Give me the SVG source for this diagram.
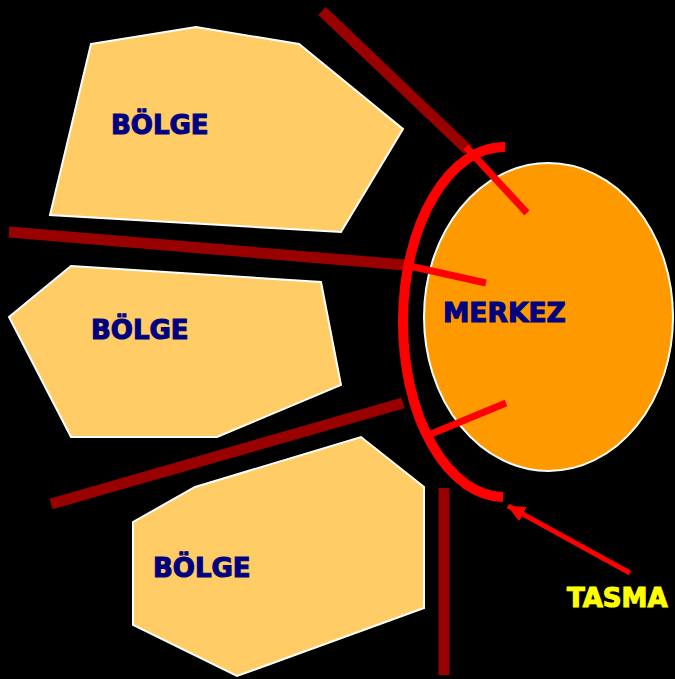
<svg xmlns="http://www.w3.org/2000/svg" width="675" height="679" viewBox="0 0 675 679">
<style>
.region{fill:#ffcc66;stroke:#ffffff;stroke-width:2;stroke-linejoin:miter}
.lbl{font-family:"DejaVu Sans","Verdana",sans-serif;font-weight:bold;font-size:26px;fill:#000080;stroke:#000080;stroke-width:1.1}
.wall{stroke:#990000;stroke-width:11;fill:none}
.spoke{stroke:#ff0000;stroke-width:7;fill:none}
</style>
<defs>
<marker id="ah" viewBox="0 0 18 16" refX="17" refY="8" markerWidth="18" markerHeight="16" orient="auto" markerUnits="userSpaceOnUse">
<path d="M0,0 L18,8 L0,16 z" fill="#ff0000"/>
</marker>
</defs>
<rect width="675" height="679" fill="#000000"/>
<g id="bolge1">
<polygon class="region" points="91,44 196,27 299,44 403,129 341,232 50,215"/>
<text class="lbl" x="111" y="134">BÖLGE</text>
</g>
<g id="bolge2">
<polygon class="region" points="71,266 321,282 341,385 217,437 71,437 9,317"/>
<text class="lbl" x="91" y="339">BÖLGE</text>
</g>
<g id="bolge3">
<polygon class="region" points="195,487 361,437 424,487 424,608 237,676 133,625 133,522"/>
<text class="lbl" x="153" y="577">BÖLGE</text>
</g>
<g id="merkez">
<ellipse cx="548.5" cy="317" rx="124.5" ry="154" fill="#ff9900" stroke="#ffffff" stroke-width="2"/>
<text class="lbl" x="443" y="322" style="font-size:26.5px">MERKEZ</text>
</g>
<g id="connectors">
<line class="wall" x1="322" y1="11" x2="468" y2="150"/>
<line class="wall" x1="9" y1="232" x2="405" y2="265"/>
<line class="wall" x1="51" y1="504" x2="403" y2="403"/>
<line class="wall" x1="444" y1="488" x2="444" y2="675"/>
<path d="M505,147 A101,175 0 0,0 503,497" fill="none" stroke="#ff0000" stroke-width="10"/>
<line class="spoke" x1="466" y1="147" x2="527" y2="213"/>
<line class="spoke" x1="405" y1="265" x2="486" y2="283"/>
<line class="spoke" x1="431" y1="434" x2="506" y2="403"/>
<line x1="630" y1="573" x2="508" y2="506" stroke="#ff0000" stroke-width="5" marker-end="url(#ah)"/>
</g>
<g id="tasma">
<text x="567" y="607" style="font-family:'DejaVu Sans',Verdana,sans-serif;font-weight:bold;font-size:26px;fill:#ffff00;stroke:#ffff00;stroke-width:1.1">TASMA</text>
</g>
</svg>
